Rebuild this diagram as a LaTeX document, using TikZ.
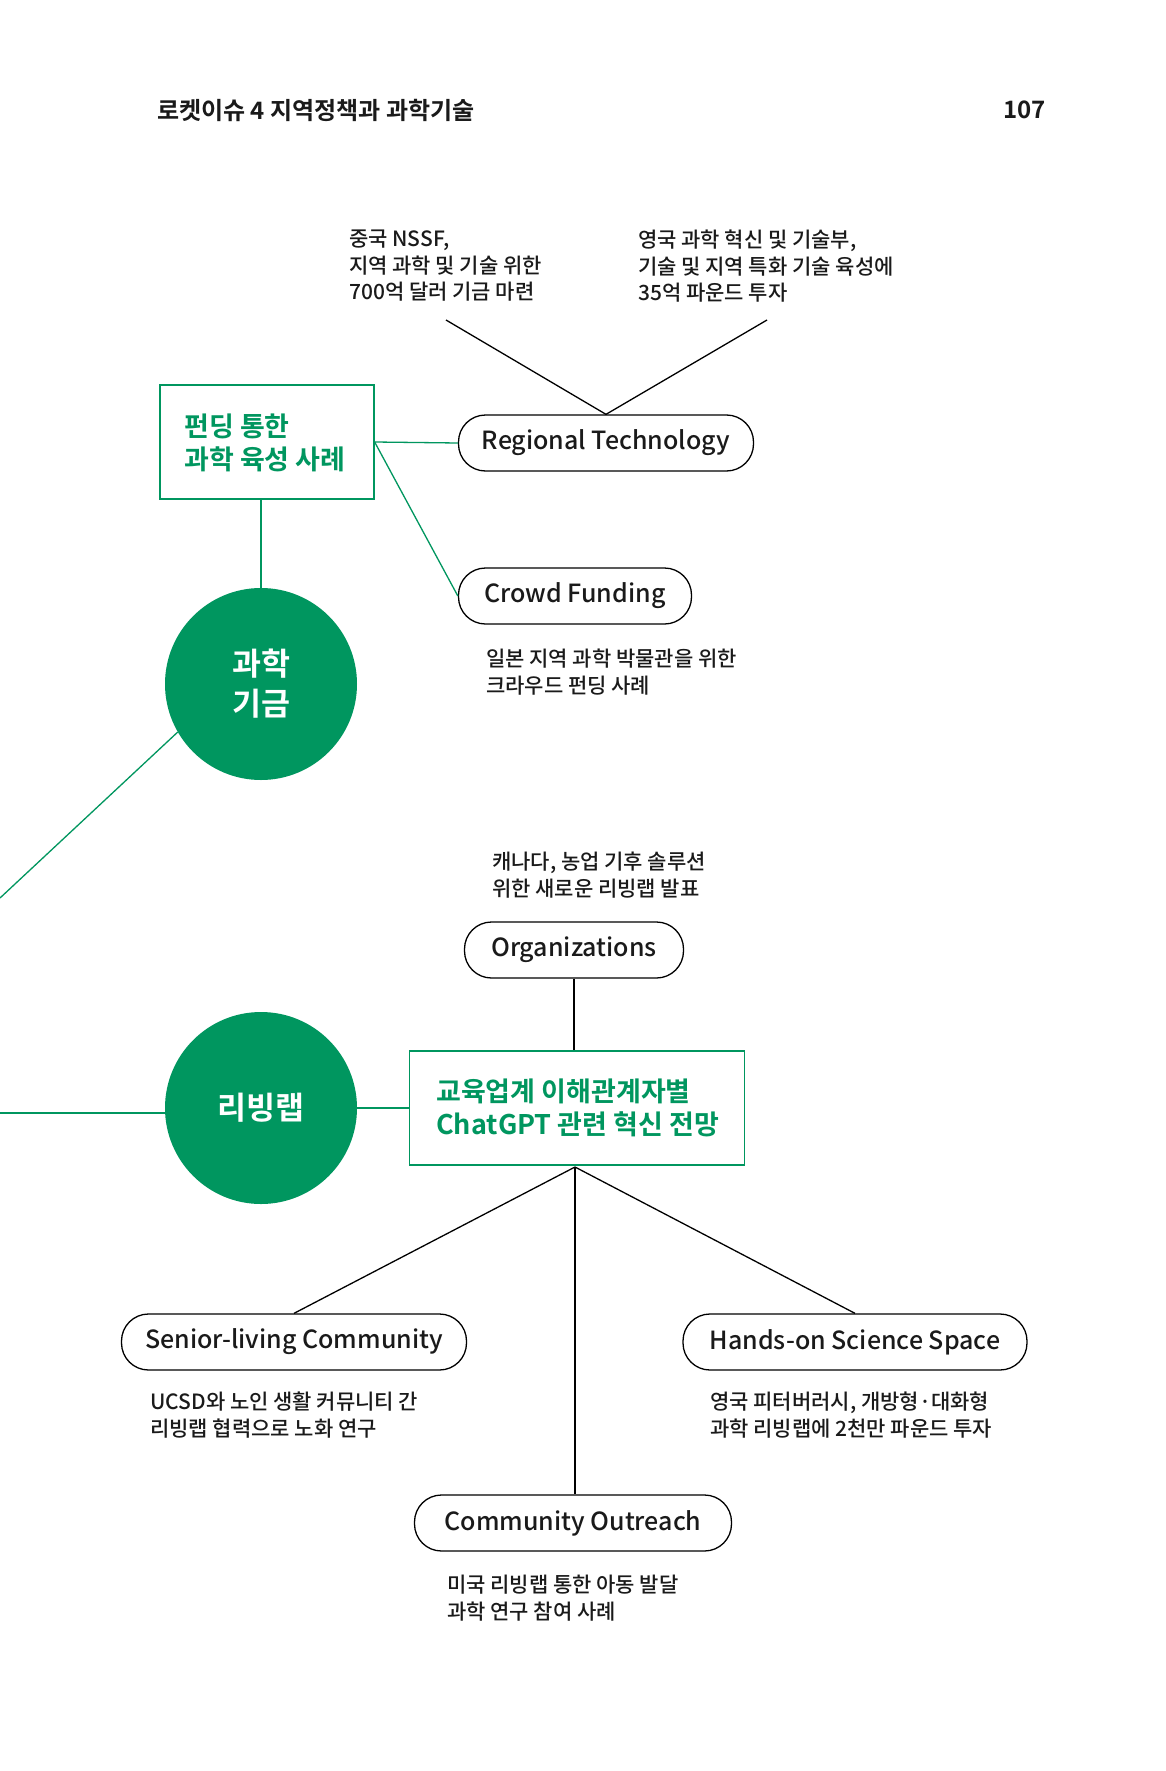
\documentclass[tikz,border=0pt]{standalone}
\usepackage{fontspec}
\setmainfont{Noto Sans CJK KR}[BoldFont={Noto Sans CJK KR Bold}]
\newfontfamily\medfont{Noto Sans CJK KR Medium}
\definecolor{kgreen}{HTML}{00965F}
\definecolor{ktext}{HTML}{1A1A1A}
\begin{document}
\begin{tikzpicture}[x=1pt,y=-1pt,
  pill/.style={draw=black,line width=1.3pt,rounded corners=27pt,minimum height=56pt,inner sep=0pt,font=\medfont\fontsize{25}{30}\selectfont,text=ktext},
  gbox/.style={draw=kgreen,line width=1.3pt,inner sep=0pt,minimum height=114pt},
  gtext/.style={align=left,anchor=north west,inner sep=0pt,text=kgreen,font=\fontsize{27}{33}\selectfont\bfseries},
  btext/.style={align=left,anchor=north west,inner sep=0pt,text=ktext,font=\medfont\fontsize{21}{26.5}\selectfont},
  gcircle/.style={circle,fill=kgreen,minimum size=192pt,inner sep=0pt,text=white,align=center,font=\fontsize{31.5}{40}\selectfont\bfseries},
  gline/.style={draw=kgreen,line width=1.3pt},
  bline/.style={draw=black,line width=1.3pt}]
\useasboundingbox (0,0) rectangle (1165,1771);
\fill[white] (0,0) rectangle (1165,1771);
% header
\node[anchor=west,inner sep=0pt,text=ktext,font=\fontsize{24}{28}\selectfont\bfseries] (hdr) at (157,110) {로켓이슈 4 지역정책과 과학기술};
\node[anchor=east,inner sep=0pt,text=ktext,font=\fontsize{24}{28}\selectfont\bfseries] (pg) at (1046,110) {107};
% top texts
\node[btext] (t1) at (349,230) {중국 NSSF,\\지역 과학 및 기술 위한\\700억 달러 기금 마련};
\node[btext] (t2) at (638,230) {영국 과학 혁신 및 기술부,\\기술 및 지역 특화 기술 육성에\\35억 파운드 투자};
\coordinate (t1e) at (446,320);
\coordinate (t2e) at (767,320);
% Regional technology
\node[pill,minimum width=295pt] (rt) at (606,443) {Regional Technology};
\draw[bline] (t1e) -- (rt.north);
\draw[bline] (t2e) -- (rt.north);
% green box 1
\node[gbox,minimum width=214pt] (b1) at (267,442) {};
\node[gtext] (b1t) at (184,414) {펀딩 통한\\과학 육성 사례};
\draw[gline] (b1.east) -- (rt.west);
% crowd funding
\node[pill,minimum width=233pt] (cf) at (575,596) {Crowd Funding};
\draw[gline] (b1.east) -- (cf.west);
\node[btext] (t3) at (486,649) {일본 지역 과학 박물관을 위한\\크라우드 펀딩 사례};
% circle 1
\node[gcircle] (c1) at (261,684) {과학\\기금};
\draw[gline] (b1.south -| c1.north) -- (c1.north);
\coordinate (l1) at (0,898);
\draw[gline] (l1) -- (c1.210);
% Canada
\node[btext] (t4) at (492,852) {캐나다, 농업 기후 솔루션\\위한 새로운 리빙랩 발표};
\node[pill,minimum width=219pt] (org) at (574,950) {Organizations};
% box 2
\node[gbox,minimum width=335pt] (b2) at (577,1108) {};
\node[gtext] (b2t) at (436,1079) {교육업계 이해관계자별\\ChatGPT 관련 혁신 전망};
\draw[bline] (org.south) -- (org.south |- b2.north);
% circle 2
\node[gcircle] (c2) at (261,1108) {리빙랩};
\coordinate (l2) at (0,1113);
\draw[gline] (l2) -- (l2 -| c2.west);
\draw[gline] (c2.east) -- (b2.west);
% bottom pills
\node[pill,minimum width=345pt] (sl) at (294,1342) {Senior-living Community};
\node[pill,minimum width=344pt] (hs) at (855,1342) {Hands-on Science Space};
\node[pill,minimum width=317pt] (co) at (573,1523) {Community Outreach};
\coordinate (b2s) at (575,1167);
\draw[bline] (b2s) -- (sl.north);
\draw[bline] (b2s) -- (hs.north);
\draw[bline] (b2s) -- (b2s |- co.north);
\node[btext] (t5) at (150,1392) {UCSD와 노인 생활 커뮤니티 간\\리빙랩 협력으로 노화 연구};
\node[btext] (t6) at (710,1392) {영국 피터버러시, 개방형·대화형\\과학 리빙랩에 2천만 파운드 투자};
\node[btext] (t7) at (447,1575) {미국 리빙랩 통한 아동 발달\\과학 연구 참여 사례};
\end{tikzpicture}
\end{document}
